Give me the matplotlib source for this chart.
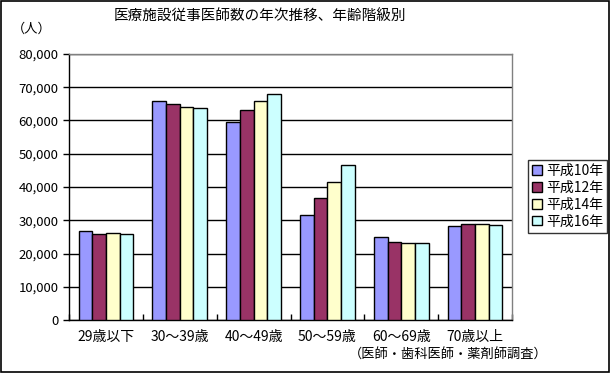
import numpy as np
import matplotlib.pyplot as plt

plt.rcParams['font.family'] = ['Noto Sans CJK JP', 'DejaVu Sans']

# データ
categories = ['29歳以下', '30～39歳', '40～49歳', '50～59歳', '60～69歳', '70歳以上']
series_names = ['平成10年', '平成12年', '平成14年', '平成16年']
h10 = [26700, 65800, 59500, 31500, 24900, 28200]
h12 = [25800, 64900, 63100, 36600, 23500, 28800]
h14 = [26100, 64000, 65800, 41400, 23100, 28800]
h16 = [25800, 63700, 68000, 46500, 23100, 28500]
colors = ['#9999FF', '#993366', '#FFFFCC', '#CCFFFF']

fig = plt.figure(figsize=(6.1, 3.73), dpi=100)
ax = fig.add_axes([69/610, 1-320/373, (512-69)/610, (320-54)/373])

x = np.arange(len(categories))
w = 0.185
for i, vals in enumerate([h10, h12, h14, h16]):
    ax.bar(x + (i - 1.5) * w, vals, w, color=colors[i], edgecolor='black',
           linewidth=1, label=series_names[i], zorder=3)

ax.set_xlim(-0.5, len(categories) - 0.5)
ax.set_ylim(0, 80000)
ax.set_yticks(np.arange(0, 80001, 10000))
ax.set_yticklabels([f'{v:,}' for v in range(0, 80001, 10000)], fontsize=9.5)
ax.yaxis.grid(True, color='black', linewidth=1, zorder=0)
ax.set_xticks(x)
ax.set_xticklabels(categories, fontsize=10)
ax.tick_params(axis='x', length=0, pad=7)
ax.tick_params(axis='y', length=4, direction='out', width=1)
# カテゴリ境界の目盛り
ax.set_xticks(np.arange(-0.5, len(categories), 1), minor=True)
ax.tick_params(axis='x', which='minor', length=4, direction='in', width=1)

for s in ['left', 'bottom']:
    ax.spines[s].set_color('black')
    ax.spines[s].set_linewidth(1)
for s in ['top', 'right']:
    ax.spines[s].set_color('#808080')
    ax.spines[s].set_linewidth(1)

fig.text(260/610, 1-17/373, '医療施設従事医師数の年次推移、年齢階級別', ha='center', va='center', fontsize=10.5)
fig.text(12/610, 1-29/373, '（人）', ha='left', va='center', fontsize=9.5)
fig.text(448/610, 1-354/373, '（医師・歯科医師・薬剤師調査）', ha='center', va='center', fontsize=9.5)

leg = fig.legend(loc='upper left', bbox_to_anchor=(521/610, 1-153/373), fontsize=10,
                 frameon=True, fancybox=False, edgecolor='black', handlelength=0.7,
                 handleheight=0.7, handletextpad=0.3, borderpad=0.3, labelspacing=0.2)
leg.get_frame().set_linewidth(1)

# 外枠
fig.patches.append(plt.Rectangle((0.001, 0.002), 0.997, 0.996, transform=fig.transFigure,
                                 fill=False, edgecolor='black', linewidth=1.2))

fig.savefig('out.png', dpi=100)
